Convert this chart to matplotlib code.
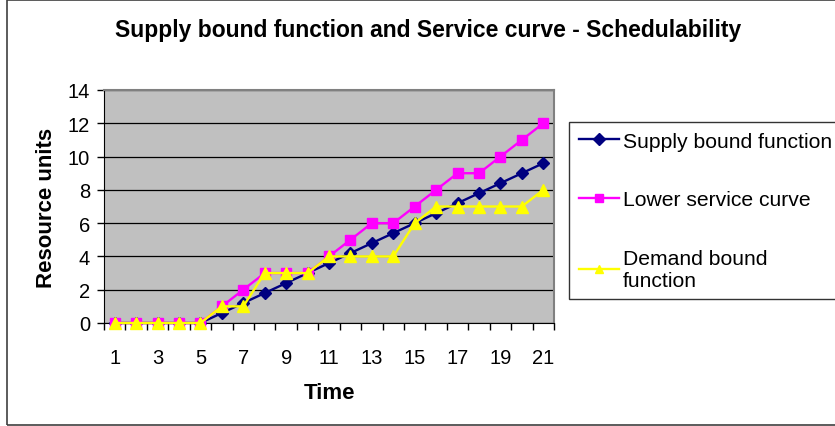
import numpy as np
import matplotlib.pyplot as plt
from matplotlib.patches import Rectangle

plt.rcParams['font.family'] = ['Liberation Sans', 'DejaVu Sans']

tiempo = list(range(1, 22))
supply = [0, 0, 0, 0, 0, 0.6, 1.2, 1.8, 2.4, 3.0, 3.6, 4.2, 4.8, 5.4, 6.0, 6.6, 7.2, 7.8, 8.4, 9.0, 9.6]
servicio = [0, 0, 0, 0, 0, 1, 2, 3, 3, 3, 4, 5, 6, 6, 7, 8, 9, 9, 10, 11, 12]
demanda = [0, 0, 0, 0, 0, 1, 1, 3, 3, 3, 4, 4, 4, 4, 6, 7, 7, 7, 7, 7, 8]
nombres = ['Supply bound function', 'Lower service curve', 'Demand bound\nfunction']

W, H = 835, 427
fig = plt.figure(figsize=(W / 100, H / 100), dpi=100)
ax = fig.add_axes([104 / W, 1 - 324 / H, (554 - 104) / W, (324 - 91) / H])
ax.set_facecolor('#C0C0C0')

ax.plot(tiempo, supply, color='#000080', lw=1.7, marker='D', ms=6.5,
        mfc='#000080', mec='#000080', clip_on=False, label=nombres[0], zorder=3)
ax.plot(tiempo, servicio, color='#FF00FF', lw=1.7, marker='s', ms=7.5,
        mfc='#FF00FF', mec='#FF00FF', clip_on=False, label=nombres[1], zorder=4)
ax.plot(tiempo, demanda, color='#FFFF00', lw=1.7, marker='^', ms=9,
        mfc='#FFFF00', mec='#FFFF00', clip_on=False, label=nombres[2], zorder=5)

ax.set_xlim(0.5, 21.5)
ax.set_ylim(0, 14)
ax.set_yticks(np.arange(0, 15, 2))
ax.grid(axis='y', color='black', lw=0.9)
ax.set_axisbelow(True)
ax.set_xticks(tiempo[::2])
ax.set_xticks(np.arange(0.5, 22, 1), minor=True)
ax.tick_params(axis='x', which='major', length=0, pad=18, labelsize=14.5)
ax.tick_params(axis='x', which='minor', length=5, width=1, direction='out')
ax.tick_params(axis='y', length=5, width=1, direction='out', labelsize=14.5, pad=5)

for lado in ['top', 'right']:
    ax.spines[lado].set_color('#808080')
    ax.spines[lado].set_linewidth(1.5)
ax.spines['left'].set_color('black')
ax.spines['bottom'].set_color('black')

ax.set_xlabel('Time', fontsize=16, fontweight='bold', labelpad=11)
ax.set_ylabel('Resource units', fontsize=16, fontweight='bold', labelpad=8)

fig.text(428 / W, 1 - 31 / H, 'Supply bound function and Service curve - Schedulability',
         ha='center', va='center', fontsize=16.5, fontweight='bold')

leg = fig.legend(loc='upper left', bbox_to_anchor=(569 / W, 1 - 123 / H),
                 fontsize=15.2, frameon=True, fancybox=False, handlelength=1.9,
                 handletextpad=0.2, labelspacing=1.88, borderpad=0.45, borderaxespad=0)
leg.get_frame().set_edgecolor('black')
leg.get_frame().set_linewidth(1)
for h in leg.legend_handles:
    h.set_markersize(6)

fig.patches.append(Rectangle((7 / W, 1 / H), 1.0, 1 - 2 / H, transform=fig.transFigure,
                             fill=False, edgecolor='#404040', lw=1.2, figure=fig))

fig.savefig('out.png', dpi=100)
